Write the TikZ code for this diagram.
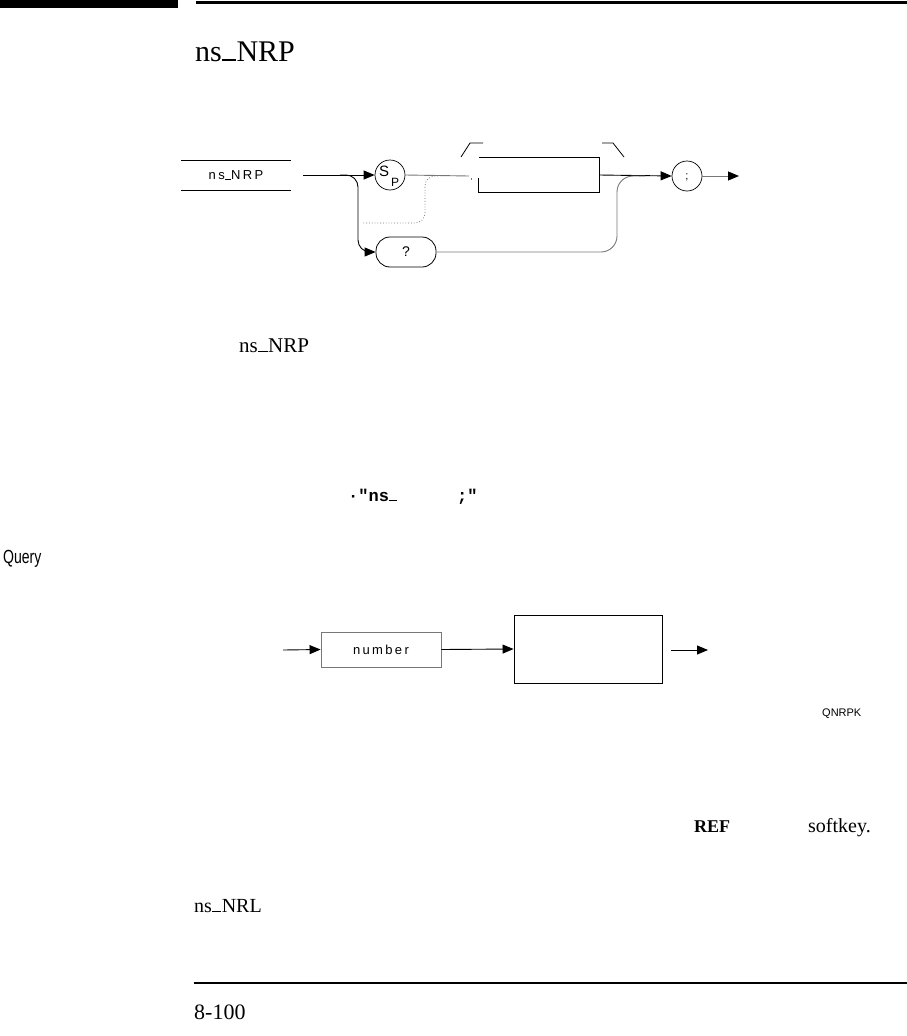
\documentclass[tikz,border=0pt]{standalone}
\usepackage{fontspec}
\setmainfont{Liberation Serif}
\newfontfamily\diagfont[LetterSpace=18]{Liberation Sans}
\newfontfamily\plainsans{Liberation Sans}
\newfontfamily\monob{Liberation Mono}
\usetikzlibrary{arrows.meta,calc}
\definecolor{dgray}{RGB}{120,120,120}
\newcommand\lowbar{\kern0.02em\rule{0.45em}{0.055em}\kern0.02em}
\tikzset{
  conn/.style={line width=0.9pt, draw=black},
  grayconn/.style={line width=0.9pt, draw=dgray},
  tip/.style={-{Triangle[length=11pt,width=9pt,color=black]}},
  circ/.style={circle, draw, line width=0.7pt, minimum size=30pt, inner sep=0pt},
  stad/.style={draw, line width=0.8pt, rounded corners=14pt, minimum width=60pt, minimum height=30pt, inner sep=0pt, font=\plainsans\fontsize{14}{16}\selectfont},
  plainbox/.style={minimum width=#1, inner sep=0pt},
  sanslbl/.style={inner sep=0pt, font=\diagfont\fontsize{13}{15}\selectfont},
  serif/.style={inner sep=0pt, anchor=base west},
}
\begin{document}
\begin{tikzpicture}[x=1pt,y=-1pt]
\useasboundingbox (0,0) rectangle (907,1036);
% header
\fill[black] (0,0) rectangle (178,8);
\draw[line width=3pt] (196,2.5) -- (907,2.5);
\node[serif, font=\fontsize{30}{34}\selectfont] (title) at (195,61) {ns\lowbar NRP};

% ---------- syntax diagram 1 ----------
\node[plainbox=109pt, minimum height=29.5pt, sanslbl] (nsbox) at (236,175) {ns\lowbar NRP};
\draw[line width=0.9pt] (nsbox.north west) -- (nsbox.north east);
\draw[line width=0.9pt] (nsbox.south west) -- (nsbox.south east);
\coordinate (s0) at (303,175);
\node[circ] (sp) at (390,175) {};
\node[inner sep=0pt, font=\plainsans\fontsize{15}{17}\selectfont] (spS) at (384,171) {S};
\node[inner sep=0pt, font=\plainsans\fontsize{12}{14}\selectfont] (spP) at (395,182) {P};
\draw[conn, tip] (s0) -- (sp.west);
% gray line after S_P
\coordinate (g1) at (469,176);
\draw[grayconn] (sp.east) -- (g1);
\coordinate (tk) at (471,178);
\draw[dgray, line width=0.8pt] (tk) -- ++(0,2);
% brackets
\draw[line width=0.8pt] (461,157) -- (470,143) -- (483,143);
\draw[line width=0.8pt] (602,143) -- (613,143) -- (624,157);
% open rectangle
\node[plainbox=120pt, minimum height=34pt] (rb) at (539,175) {};
\draw[line width=0.9pt] ($(rb.south west)+(0,-14)$) -- (rb.south west) -- (rb.south east) -- (rb.north east) -- (rb.north west);
% semicolon circle
\node[circ] (semi) at (687,176) {};
\node[inner sep=0pt, font=\plainsans\fontsize{11}{13}\selectfont] (semil) at (687,177) {;};
\draw[conn, tip] (rb.east) -- (semi.west);
\coordinate (e1) at (739,176);
\draw[grayconn, tip] (semi.east) -- (e1);
% query branch
\node[stad] (q) at (406,252) {?};
\coordinate (b0) at (340,175);
\coordinate (b1) at (358,175);
\coordinate (b2) at (358,252);
\draw[conn, tip, rounded corners=12pt] (b0) -- (b1) -- (b2) -- (q.west);
\coordinate (r1) at (617,252);
\coordinate (r2) at (617,176);
\coordinate (r3) at (645,176);
\draw[grayconn, rounded corners=16pt] (q.east) -- (r1) -- (r2) -- (r3);
% dotted bypass
\coordinate (d0) at (438,176);
\coordinate (d1) at (425,176);
\coordinate (d2) at (425,223);
\coordinate (d3) at (363,223);
\draw[dgray, line width=0.8pt, dotted, rounded corners=10pt] (d0) -- (d1) -- (d2) -- (d3);

% body texts
\node[serif, font=\fontsize{21}{24}\selectfont] (t1) at (239,352) {ns\lowbar NRP};
\node[serif, font=\monob\bfseries\fontsize{17}{20}\selectfont] (t2) at (348,501) {·"ns\lowbar};
\node[serif, font=\monob\bfseries\fontsize{17}{20}\selectfont] (t3) at (457,501) {;"};
\node[serif, font=\plainsans\fontsize{19}{21}\selectfont, xscale=0.74] (query) at (3,563) {Query};

% ---------- syntax diagram 2 ----------
\node[draw=dgray, line width=0.9pt, minimum width=120pt, minimum height=35pt, inner sep=0pt, font=\diagfont\fontsize{13}{15}\selectfont] (num) at (381,649.5) {number};
\node[draw, line width=0.9pt, minimum width=148pt, minimum height=68pt, inner sep=0pt] (big) at (588,649) {};
\coordinate (in2) at (283,650);
\draw[conn, tip] (in2) -- (num.west);
\draw[conn, tip] (num.east) -- (big.west);
\coordinate (o2s) at (671,650);
\coordinate (o2e) at (708,650);
\draw[conn, tip] (o2s) -- (o2e);
\node[serif, font=\plainsans\fontsize{11}{13}\selectfont] (qn) at (822,716) {QNRPK};

% lower texts
\node[serif, font=\bfseries\fontsize{18}{20}\selectfont] (ref) at (694,832) {REF};
\node[serif, font=\fontsize{20}{22}\selectfont] (soft) at (808,832) {softkey.};
\node[serif, font=\fontsize{20}{22}\selectfont] (nrl) at (194,912) {ns\lowbar NRL};
\draw[line width=2.5pt] (194,983) -- (907,983);
\node[serif, font=\fontsize{22}{24}\selectfont] (pg) at (194,1019) {8-100};
\end{tikzpicture}
\end{document}
